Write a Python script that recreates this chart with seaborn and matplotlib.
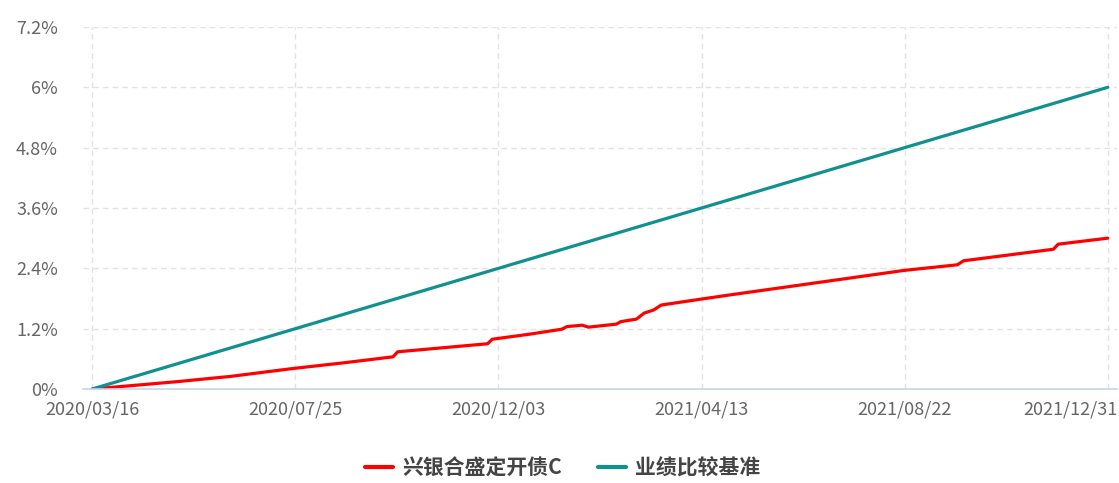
import matplotlib
matplotlib.use("Agg")
import matplotlib.pyplot as plt
import matplotlib.dates as mdates
import matplotlib.transforms as mtransforms
from matplotlib.ticker import FuncFormatter, FixedLocator
from matplotlib.lines import Line2D
import seaborn as sns
import pandas as pd

# ---- data ----
fund_name = "兴银合盛定开债C"
bench_name = "业绩比较基准"

fund_dates = ["2020-03-16", "2020-04-15", "2020-05-11", "2020-06-13", "2020-07-24", "2020-08-25",
              "2020-09-26", "2020-09-29", "2020-11-26", "2020-11-29", "2020-12-23",
              "2021-01-13", "2021-01-16", "2021-01-26", "2021-01-30", "2021-02-17",
              "2021-02-20", "2021-03-02", "2021-03-07", "2021-03-13", "2021-03-18",
              "2021-04-11", "2021-05-01", "2021-08-22", "2021-09-25", "2021-09-29",
              "2021-11-26", "2021-11-29", "2021-12-31"]
fund_values = [0.00, 0.08, 0.15, 0.25, 0.41, 0.52,
               0.64, 0.74, 0.90, 0.99, 1.09,
               1.19, 1.24, 1.27, 1.23, 1.29,
               1.34, 1.39, 1.51, 1.57, 1.67,
               1.78, 1.87, 2.36, 2.47, 2.55,
               2.78, 2.88, 3.00]

bench_dates = ["2020-03-16", "2020-07-25", "2020-12-03", "2021-04-13", "2021-08-22", "2021-12-31"]
bench_values = [0.00, 1.20, 2.40, 3.60, 4.80, 6.00]

x_ticks = ["2020/03/16", "2020/07/25", "2020/12/03", "2021/04/13", "2021/08/22", "2021/12/31"]
y_ticks = [0, 1.2, 2.4, 3.6, 4.8, 6.0, 7.2]

# ---- build table ----
df = pd.concat([
    pd.DataFrame({"date": pd.to_datetime(fund_dates), "value": fund_values, "series": fund_name}),
    pd.DataFrame({"date": pd.to_datetime(bench_dates), "value": bench_values, "series": bench_name}),
], ignore_index=True)

sns.set_style("white")
plt.rcParams["font.family"] = ["Noto Sans CJK SC", "DejaVu Sans"]

W, H = 1119, 483
fig = plt.figure(figsize=(W / 100, H / 100), dpi=100)
ax = fig.add_axes([83 / W, (H - 389) / H, (1117 - 83) / W, (389 - 27) / H])

RED, TEAL = "#ff0000", "#119090"
palette = {fund_name: RED, bench_name: TEAL}
sns.lineplot(data=df, x="date", y="value", hue="series", palette=palette,
             hue_order=[fund_name, bench_name], linewidth=2.3, ax=ax, legend=False,
             estimator=None)

tick_dates = pd.to_datetime(x_ticks, format="%Y/%m/%d")
ax.set_xlim(pd.Timestamp("2020-03-10"), pd.Timestamp("2022-01-06"))
ax.set_ylim(0, 7.2)
ax.xaxis.set_major_locator(FixedLocator(mdates.date2num(tick_dates)))
ax.xaxis.set_major_formatter(mdates.DateFormatter("%Y/%m/%d"))
ax.yaxis.set_major_locator(FixedLocator(y_ticks))
ax.yaxis.set_major_formatter(FuncFormatter(lambda v, p: f"{v:g}%"))

ax.set_xlabel("")
ax.set_ylabel("")
for s in ["top", "right", "left"]:
    ax.spines[s].set_visible(False)
ax.spines["bottom"].set_color("#c9d3ec")
ax.spines["bottom"].set_linewidth(1.2)

ax.grid(True, axis="both", linestyle=(0, (4, 3)), color="#e2e2e2", linewidth=1.0)
ax.set_axisbelow(True)
ax.tick_params(axis="x", direction="out", length=5, width=1.2, color="#c9d3ec",
               labelsize=13, labelcolor="#666666", pad=3)
ax.tick_params(axis="y", length=0, labelsize=13, labelcolor="#666666", pad=18)

ax.yaxis.get_gridlines()[0].set_visible(False)

fig.canvas.draw()
last = ax.get_xticklabels()[-1]
last.set_horizontalalignment("right")
last.set_transform(last.get_transform() + mtransforms.ScaledTranslation(10 / 100, 0, fig.dpi_scale_trans))

handles = [Line2D([], [], color=RED, linewidth=3),
           Line2D([], [], color=TEAL, linewidth=3)]
leg = fig.legend(handles, [fund_name, bench_name], loc="center", bbox_to_anchor=(563 / W, 15 / H),
                 ncol=2, frameon=False, handlelength=1.35, handletextpad=0.45, columnspacing=1.7,
                 prop={"family": ["Noto Sans CJK SC", "DejaVu Sans"], "size": 15, "weight": "bold"})
for t in leg.get_texts():
    t.set_color("#444444")

fig.savefig("out.png", dpi=100)
